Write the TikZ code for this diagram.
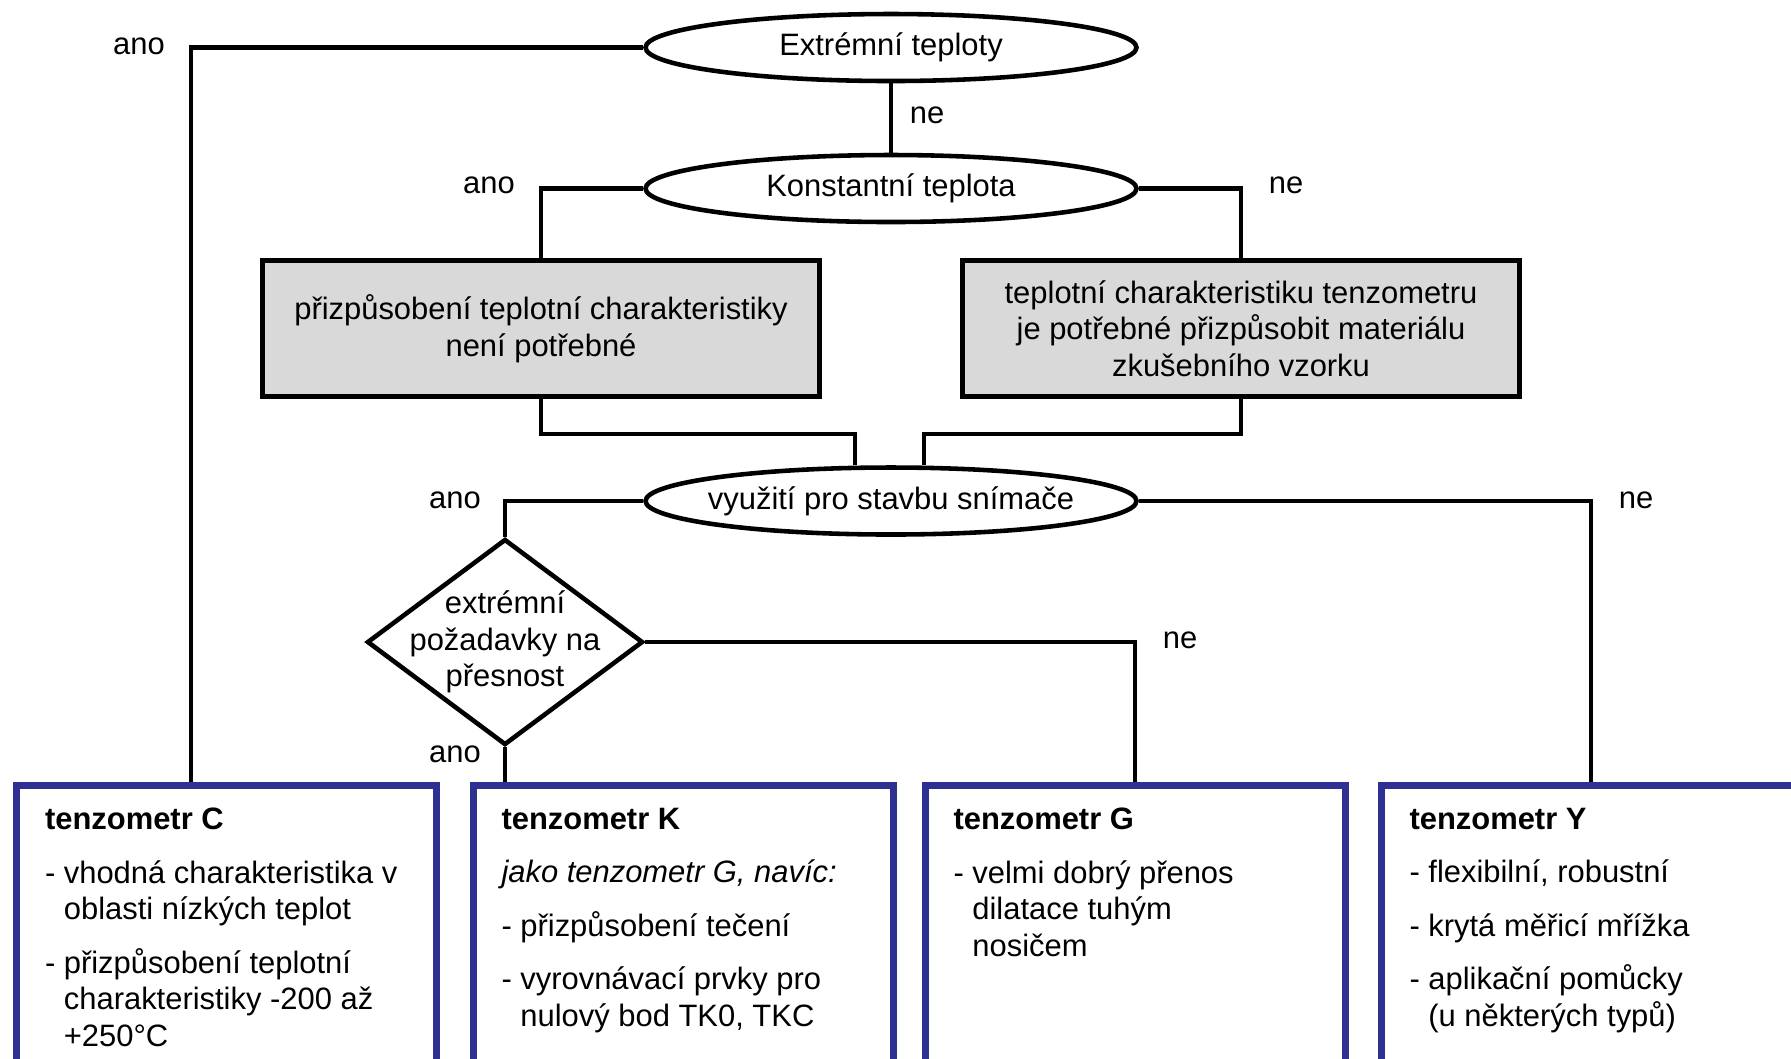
\documentclass[tikz,border=0pt]{standalone}
\usepackage{fontspec}
\setmainfont{Liberation Sans}
\usetikzlibrary{shapes.geometric}
\definecolor{boxgray}{RGB}{217,217,217}
\definecolor{tenzblue}{RGB}{46,49,146}
\newcommand{\tenzbody}[1]{\parbox[t][3cm][t]{3.63cm}{\raggedright #1}}
\begin{document}
\begin{tikzpicture}[x=1cm,y=1cm,
  font=\fontsize{8.8}{10.4}\selectfont, line width=1.2pt,
  question/.style={draw, ellipse, line width=1.3pt, minimum width=4.91cm, minimum height=0.67cm, inner xsep=-0.5cm, inner ysep=0pt},
  decision/.style={draw, diamond, line width=1.3pt, minimum width=2.76cm, minimum height=2.06cm, inner sep=0pt},
  graybox/.style={draw, line width=1.6pt, fill=boxgray, minimum width=5.57cm, minimum height=1.36cm, align=center},
  tenzbox/.style={draw=tenzblue, line width=2pt, anchor=north west, inner xsep=0.285cm, inner ysep=0.225cm},
  answer/.style={inner sep=0pt}]
\useasboundingbox (0,0) rectangle (17.91,-10.58);
\clip (0,0) rectangle (17.91,-10.58);
\node[question] (e1) at (8.91,-0.475) {Extrémní teploty};
\node[question] (e2) at (8.91,-1.885) {Konstantní teplota};
\node[graybox] (b1) at (5.41,-3.285) {přizpůsobení teplotní charakteristiky\\není potřebné};
\node[graybox] (b2) at (12.41,-3.285) {teplotní charakteristiku tenzometru\\je potřebné přizpůsobit materiálu\\zkušebního vzorku};
\node[question] (e3) at (8.91,-5.01) {využití pro stavbu snímače};
\node[decision, label={[align=center]center:{extrémní\\požadavky na\\přesnost}}] (d) at (5.05,-6.42) {};
\node[tenzbox] (tc) at (0.13,-7.82) {\tenzbody{\textbf{tenzometr C}\\[4.8pt]
  - vhodná charakteristika v\\ \hphantom{- }oblasti nízkých teplot\\[4.8pt]
  - přizpůsobení teplotní\\ \hphantom{- }charakteristiky -200 až\\ \hphantom{- }+250°C}};
\node[tenzbox] (tk) at (4.695,-7.82) {\tenzbody{\textbf{tenzometr K}\\[4.8pt]
  \textit{jako tenzometr G, navíc:}\\[4.8pt]
  - přizpůsobení tečení\\[4.8pt]
  - vyrovnávací prvky pro\\ \hphantom{- }nulový bod TK0, TKC}};
\node[tenzbox] (tg) at (9.215,-7.82) {\tenzbody{\textbf{tenzometr G}\\[4.8pt]
  - velmi dobrý přenos\\ \hphantom{- }dilatace tuhým\\ \hphantom{- }nosičem}};
\node[tenzbox] (ty) at (13.775,-7.82) {\tenzbody{\textbf{tenzometr Y}\\[4.8pt]
  - flexibilní, robustní\\[4.8pt]
  - krytá měřicí mřížka\\[4.8pt]
  - aplikační pomůcky\\ \hphantom{- }(u některých typů)}};
\node[answer] (a1) at (1.39,-0.46) {ano};
\node[answer] (n1) at (9.27,-1.15) {ne};
\node[answer] (a2) at (4.89,-1.85) {ano};
\node[answer] (n2) at (12.86,-1.85) {ne};
\node[answer] (a3) at (4.55,-5.00) {ano};
\node[answer] (n3) at (16.36,-5.00) {ne};
\node[answer] (n4) at (11.80,-6.40) {ne};
\node[answer] (a4) at (4.55,-7.54) {ano};
\draw (e1.west) -| ([xshift=-0.355cm]tc.north);
\draw (e1.south) -- (e2.north);
\draw (e2.west) -| (b1.north);
\draw (e2.east) -| (b2.north);
\draw (b1.south) -- ++(0,-0.35) -| ([xshift=-0.36cm]e3.north);
\draw (b2.south) -- ++(0,-0.35) -| ([xshift=0.33cm]e3.north);
\draw (e3.west) -| (d.north);
\draw (e3.east) -| (ty.north);
\draw (d.east) -| (tg.north);
\draw (d.south) -- (d.south |- tk.north);
\end{tikzpicture}
\end{document}
